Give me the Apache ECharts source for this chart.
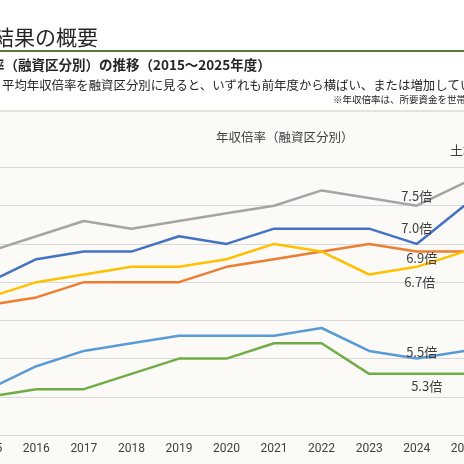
<!DOCTYPE html>
<html>
<head>
<meta charset="utf-8">
<script src="https://cdn.jsdelivr.net/npm/echarts@6/dist/echarts.min.js"></script>
<style>
  html, body { margin: 0; padding: 0; background: #ffffff; overflow: hidden; }
  #wrap { position: relative; width: 464px; height: 464px; overflow: hidden; }
  /* 元のスライドは左右が切れているので、チャートを少し広く描いて左へずらす */
  #main { position: absolute; left: -35px; top: 0; width: 523px; height: 464px; }
</style>
</head>
<body>
<div id="wrap"><div id="main"></div></div>
<script>
// 年度
var years = ['2015', '2016', '2017', '2018', '2019', '2020', '2021', '2022', '2023', '2024', '2025'];
// 年収倍率（融資区分別）
var grayVals   = [6.9, 7.1, 7.3, 7.2, 7.3, 7.4, 7.5, 7.7, 7.6, 7.5, 7.8];
var blueVals   = [6.5, 6.8, 6.9, 6.9, 7.1, 7.0, 7.2, 7.2, 7.2, 7.0, 7.5];
var orangeVals = [6.2, 6.3, 6.5, 6.5, 6.5, 6.7, 6.8, 6.9, 7.0, 6.9, 6.9];
var yellowVals = [6.3, 6.5, 6.6, 6.7, 6.7, 6.8, 7.0, 6.9, 6.6, 6.7, 6.9];
var skyVals    = [5.1, 5.4, 5.6, 5.7, 5.8, 5.8, 5.8, 5.9, 5.6, 5.5, 5.6];
var greenVals  = [5.0, 5.1, 5.1, 5.3, 5.5, 5.5, 5.7, 5.7, 5.3, 5.3, 5.3];
var yTicks = [4.5, 8.0, 0.5]; // min, max, interval

var labelYear = '2024';
var dx = 35; // 画面左端からのずれ

// 2024年度だけラベルを出す
function withLabel(vals, pos, dist, off) {
  var idx = years.indexOf(labelYear);
  return vals.map(function (v, i) {
    if (i !== idx) return v;
    return {
      value: v,
      label: {
        show: true,
        position: pos,
        distance: dist,
        offset: off,
        formatter: function (p) { return p.value.toFixed(1) + '倍'; }
      }
    };
  });
}

function lineSeries(name, color, data) {
  return {
    name: name,
    type: 'line',
    data: data,
    symbol: 'circle',
    symbolSize: 0.1,
    showAllSymbol: true,
    lineStyle: { width: 2.5, color: color },
    itemStyle: { color: color },
    label: { color: '#404040', fontSize: 13, fontFamily: 'Noto Sans CJK JP' },
    emphasis: { disabled: true },
    z: 3
  };
}

var chart = echarts.init(document.getElementById('main'), null, { renderer: 'canvas' });

var option = {
  backgroundColor: '#ffffff',
  animation: false,
  textStyle: { fontFamily: 'Noto Sans CJK JP' },
  title: {
    text: '年収倍率（融資区分別）',
    left: 211 + dx,
    top: 126,
    textStyle: { fontSize: 12.5, fontWeight: 'normal', color: '#404040', fontFamily: 'Noto Sans CJK JP' }
  },
  grid: { left: 0, right: 0, top: 167.5, bottom: 29 },
  xAxis: {
    type: 'category',
    data: years,
    boundaryGap: true,
    axisLine: { lineStyle: { color: '#D9D9D9' } },
    axisTick: { show: false },
    axisLabel: { color: '#404040', fontSize: 12, margin: 8, fontFamily: 'Roboto' }
  },
  yAxis: {
    type: 'value',
    min: yTicks[0],
    max: yTicks[1],
    interval: yTicks[2],
    axisLabel: { show: false },
    axisLine: { show: false },
    axisTick: { show: false },
    splitLine: { lineStyle: { color: '#D9D9D9', width: 1 } }
  },
  series: [
    lineSeries('土地付注文住宅', '#A5A5A5', withLabel(grayVals, 'top', 3, [0, 0])),
    lineSeries('注文住宅', '#4472C4', withLabel(blueVals, 'top', 9, [0, 0])),
    lineSeries('マンション', '#ED7D31', withLabel(orangeVals, 'bottom', 0, [5, 0])),
    lineSeries('建売住宅', '#FFC000', withLabel(yellowVals, 'bottom', 9, [3, 0])),
    lineSeries('中古戸建', '#5B9BD5', withLabel(skyVals, 'top', 0, [5, 0])),
    lineSeries('中古マンション', '#70AD47', withLabel(greenVals, 'bottom', 6, [10, 0]))
  ],
  graphic: [
    { type: 'rect', shape: { x: 0, y: 111, width: 523, height: 353 }, style: { fill: '#FBFAF7' }, z: -10, silent: true },
    { type: 'text', left: -7 + dx, top: 27, style: { text: '結果の概要', font: '21px "Noto Sans CJK JP"', fill: '#262626' } },
    { type: 'rect', shape: { x: 0, y: 50, width: 523, height: 2 }, style: { fill: '#5A7A3A' } },
    { type: 'text', left: -9 + dx, top: 58, style: { text: '率（融資区分別）の推移（2015〜2025年度）', font: 'bold 13.5px "Noto Sans CJK JP"', fill: '#262626' } },
    { type: 'text', left: 2 + dx, top: 79, style: { text: '平均年収倍率を融資区分別に見ると、いずれも前年度から横ばい、または増加している。', font: '12.4px "Noto Sans CJK JP"', fill: '#262626' } },
    { type: 'text', left: 333 + dx, top: 95, style: { text: '※年収倍率は、所要資金を世帯年収で除したもの', font: '9.5px "Noto Sans CJK JP"', fill: '#262626' } },
    { type: 'rect', shape: { x: 0, y: 110.5, width: 523, height: 1 }, style: { fill: '#C5CCB8' } },
    { type: 'text', left: 450 + dx, top: 144, style: { text: '土地付注文住宅', font: '13px "Noto Sans CJK JP"', fill: '#404040' } }
  ]
};

chart.setOption(option);
</script>
</body>
</html>
